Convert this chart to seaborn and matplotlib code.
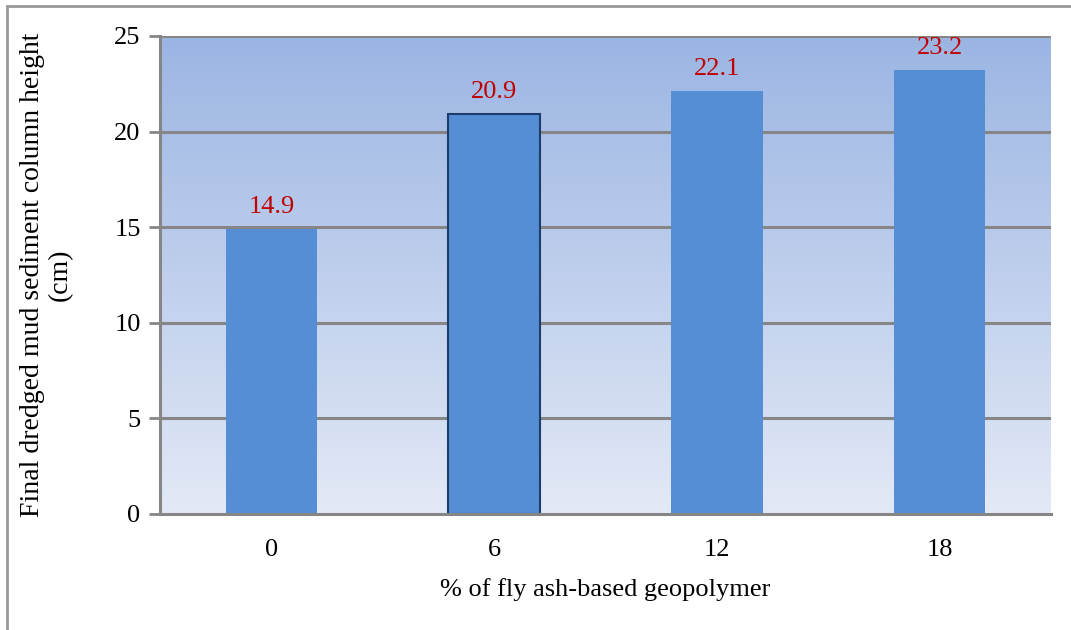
import numpy as np
import pandas as pd
import matplotlib
matplotlib.use("Agg")
import matplotlib.pyplot as plt
import seaborn as sns
from matplotlib.colors import LinearSegmentedColormap
from matplotlib.lines import Line2D

categories = ["0", "6", "12", "18"]
values = [14.9, 20.9, 22.1, 23.2]
value_labels = ["14.9", "20.9", "22.1", "23.2"]
y_ticks = [0, 5, 10, 15, 20, 25]

sns.set_theme(style="white")
plt.rcParams["font.family"] = ["Liberation Serif", "DejaVu Serif"]
plt.rcParams["text.color"] = "black"
plt.rcParams["axes.labelcolor"] = "black"
plt.rcParams["xtick.color"] = "black"
plt.rcParams["ytick.color"] = "black"

FS = 19

fig = plt.figure(figsize=(10.71, 6.3), dpi=100)
ax = fig.add_axes([160 / 1071, 1 - 514 / 630, (1051 - 160) / 1071, (514 - 36) / 630])

df = pd.DataFrame({"cat": categories, "val": values})

# gradient background
cmap = LinearSegmentedColormap.from_list("bg", ["#e3e9f6", "#9bb5e3"])
grad = np.linspace(0, 1, 256).reshape(-1, 1)
ax.imshow(grad, aspect="auto", cmap=cmap, origin="lower",
          extent=[0, 1, 0, 1], transform=ax.transAxes, zorder=0)

sns.barplot(data=df, x="cat", y="val", color="#558ed5", saturation=1,
            width=0.41, ax=ax, zorder=3)

for i, p in enumerate(ax.patches):
    p.set_facecolor("#558ed5")
    if i == 1:
        p.set_edgecolor("#1f3d6a")
        p.set_linewidth(1.5)
    else:
        p.set_edgecolor("none")

ax.set_ylim(0, 25)
ax.set_xlim(-0.5, len(categories) - 0.5)
ax.set_yticks(y_ticks)
ax.set_yticklabels([str(t) for t in y_ticks], fontsize=FS)
ax.tick_params(axis="x", labelsize=FS, length=0, pad=18, labelcolor="black")
ax.tick_params(axis="y", direction="out", length=8, width=2, color="#868686",
               left=True, pad=6, labelcolor="black")

for t in y_ticks[1:]:
    ax.axhline(t, color="#868686", lw=2.2, zorder=2)

for s in ["top", "right"]:
    ax.spines[s].set_visible(False)
for s in ["left", "bottom"]:
    ax.spines[s].set_color("#868686")
    ax.spines[s].set_linewidth(2.2)
    ax.spines[s].set_zorder(4)

for i, (v, lab) in enumerate(zip(values, value_labels)):
    ax.annotate(lab, (i, v), xytext=(0, 8), textcoords="offset points",
                ha="center", va="bottom", color="#c00000", fontsize=FS,
                zorder=5, annotation_clip=False)

ax.set_xlabel("% of fly ash-based geopolymer", fontsize=FS, labelpad=12,
              color="black")
ax.set_ylabel("Final dredged mud sediment column height\n(cm)", fontsize=20,
              labelpad=30, linespacing=1.12, color="black")

# outer border lines (top and left)
fig.add_artist(Line2D([7 / 1071, 7 / 1071], [0, 1 - 6 / 630], color="#999999",
                      lw=2, transform=fig.transFigure))
fig.add_artist(Line2D([7 / 1071, 1], [1 - 6 / 630, 1 - 6 / 630], color="#999999",
                      lw=2, transform=fig.transFigure))

fig.savefig("out.png", dpi=100)
